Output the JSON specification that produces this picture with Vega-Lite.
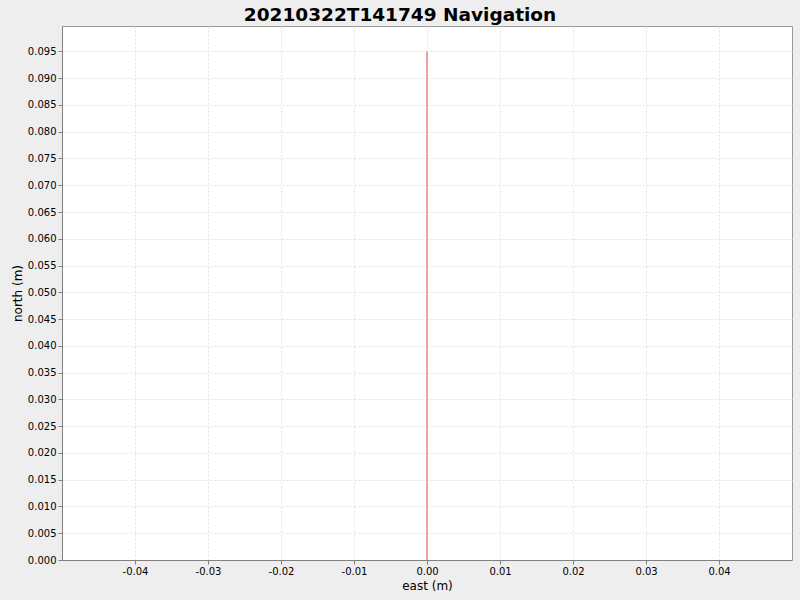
{
  "$schema": "https://vega.github.io/schema/vega-lite/v6.json",
  "autosize": {"type": "none"},
  "padding": {"left": 62, "top": 26, "right": 8, "bottom": 40},
  "width": 730,
  "height": 534,
  "background": "#eeeeee",
  "title": {
    "text": "20210322T141749 Navigation",
    "font": "DejaVu Sans",
    "fontSize": 18.5,
    "fontWeight": "bold",
    "color": "#000000",
    "anchor": "middle",
    "dx": -27,
    "offset": 2
  },
  "data": {
    "values": [
      {"east": 0.0, "north": 0.0},
      {"east": 0.0, "north": 0.095}
    ]
  },
  "mark": {"type": "line", "color": "#e84a4a", "strokeWidth": 1, "clip": true},
  "encoding": {
    "x": {
      "field": "east",
      "type": "quantitative",
      "title": "east (m)",
      "scale": {"domain": [-0.05, 0.05], "nice": false, "zero": false},
      "axis": {
        "values": [-0.04, -0.03, -0.02, -0.01, 0, 0.01, 0.02, 0.03, 0.04],
        "labelExpr": "replace(format(datum.value, '.2f'), '\u2212', '-')",
        "titlePadding": 4
      }
    },
    "y": {
      "field": "north",
      "type": "quantitative",
      "title": "north (m)",
      "scale": {"domain": [0, 0.09975], "nice": false},
      "axis": {
        "values": [0, 0.005, 0.01, 0.015, 0.02, 0.025, 0.03, 0.035, 0.04, 0.045, 0.05, 0.055, 0.06, 0.065, 0.07, 0.075, 0.08, 0.085, 0.09, 0.095],
        "format": ".3f",
        "titlePadding": 3
      }
    }
  },
  "config": {
    "view": {"fill": "#ffffff", "stroke": "#999999", "strokeWidth": 1},
    "axis": {
      "labelFont": "DejaVu Sans",
      "labelFontSize": 10,
      "labelColor": "#000000",
      "titleFont": "DejaVu Sans",
      "titleFontSize": 12,
      "titleFontWeight": "normal",
      "titleColor": "#000000",
      "domainColor": "#808080",
      "tickColor": "#808080",
      "tickSize": 4,
      "labelPadding": 2,
      "grid": true,
      "gridColor": "#e0e0e0",
      "gridDash": [2, 2],
      "gridWidth": 1,
      "labelFlush": false,
      "labelOverlap": false
    }
  }
}
